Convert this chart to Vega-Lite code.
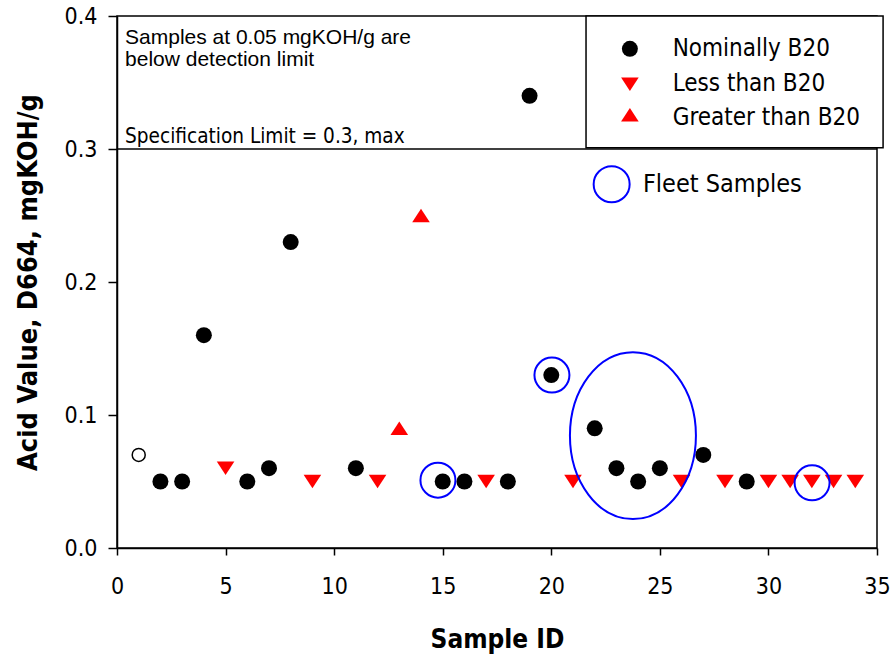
{
  "$schema": "https://vega.github.io/schema/vega-lite/v6.json",
  "width": 760,
  "height": 532,
  "autosize": {"type": "none"},
  "padding": {"left": 117, "top": 16, "right": 17, "bottom": 110},
  "background": "white",
  "config": {
    "view": {"stroke": "black", "strokeWidth": 1.5},
    "axis": {
      "grid": false,
      "domainColor": "black",
      "domainWidth": 1.5,
      "tickColor": "black",
      "tickWidth": 1.5,
      "labelColor": "black",
      "titleColor": "black",
      "labelFont": "DejaVu Sans Condensed, Liberation Sans Narrow, DejaVu Sans",
      "labelFontSize": 23,
      "titleFont": "DejaVu Sans Condensed, Liberation Sans Narrow, DejaVu Sans",
      "titleFontSize": 26,
      "titleFontWeight": "bold",
      "labelFlush": false,
      "labelOverlap": false
    }
  },
  "datasets": {
    "samples": [
      {"id": 2, "value": 0.05, "group": "Nominally B20"},
      {"id": 3, "value": 0.05, "group": "Nominally B20"},
      {"id": 4, "value": 0.16, "group": "Nominally B20"},
      {"id": 5, "value": 0.06, "group": "Less than B20"},
      {"id": 6, "value": 0.05, "group": "Nominally B20"},
      {"id": 7, "value": 0.06, "group": "Nominally B20"},
      {"id": 8, "value": 0.23, "group": "Nominally B20"},
      {"id": 9, "value": 0.05, "group": "Less than B20"},
      {"id": 11, "value": 0.06, "group": "Nominally B20"},
      {"id": 12, "value": 0.05, "group": "Less than B20"},
      {"id": 13, "value": 0.09, "group": "Greater than B20"},
      {"id": 14, "value": 0.25, "group": "Greater than B20"},
      {"id": 15, "value": 0.05, "group": "Nominally B20"},
      {"id": 16, "value": 0.05, "group": "Nominally B20"},
      {"id": 17, "value": 0.05, "group": "Less than B20"},
      {"id": 18, "value": 0.05, "group": "Nominally B20"},
      {"id": 19, "value": 0.34, "group": "Nominally B20"},
      {"id": 20, "value": 0.13, "group": "Nominally B20"},
      {"id": 21, "value": 0.05, "group": "Less than B20"},
      {"id": 22, "value": 0.09, "group": "Nominally B20"},
      {"id": 23, "value": 0.06, "group": "Nominally B20"},
      {"id": 24, "value": 0.05, "group": "Nominally B20"},
      {"id": 25, "value": 0.06, "group": "Nominally B20"},
      {"id": 26, "value": 0.05, "group": "Less than B20"},
      {"id": 27, "value": 0.07, "group": "Nominally B20"},
      {"id": 28, "value": 0.05, "group": "Less than B20"},
      {"id": 29, "value": 0.05, "group": "Nominally B20"},
      {"id": 30, "value": 0.05, "group": "Less than B20"},
      {"id": 31, "value": 0.05, "group": "Less than B20"},
      {"id": 32, "value": 0.05, "group": "Less than B20"},
      {"id": 33, "value": 0.05, "group": "Less than B20"},
      {"id": 34, "value": 0.05, "group": "Less than B20"}
    ],
    "openSample": [{"id": 1, "value": 0.07}],
    "fleet": [
      {"id": 14.78, "value": 0.051},
      {"id": 20.03, "value": 0.13},
      {"id": 32.01, "value": 0.049}
    ],
    "fleetGroup": [{"id": 23.76, "value": 0.0845}],
    "legendBox": [{"x": 21.6, "x2": 35.28, "y": 0.4, "y2": 0.301}],
    "legendItems": [
      {"group": "Nominally B20", "x": 23.62, "y": 0.3753, "tx": 25.59, "ty": 0.3753},
      {"group": "Less than B20", "x": 23.62, "y": 0.3487, "tx": 25.59, "ty": 0.3487},
      {"group": "Greater than B20", "x": 23.62, "y": 0.3257, "tx": 25.59, "ty": 0.3235}
    ],
    "fleetLegend": [{"x": 22.78, "y": 0.2735, "tx": 24.22, "label": "Fleet Samples"}],
    "notes": [
      {"label": "Samples at 0.05 mgKOH/g are", "x": 0.37, "y": 0.379},
      {"label": "below detection limit", "x": 0.37, "y": 0.3621}
    ],
    "specNote": [{"label": "Specification Limit = 0.3, max", "x": 0.37, "y": 0.3045, "limit": 0.3}]
  },
  "layer": [
    {
      "data": {"name": "legendBox"},
      "mark": {"type": "rect", "fill": "white", "stroke": "black", "strokeWidth": 1.5},
      "encoding": {
        "x": {"field": "x", "type": "quantitative", "scale": {"domain": [0, 35], "nice": false, "zero": false},
              "axis": {"values": [0, 5, 10, 15, 20, 25, 30, 35], "tickSize": 7, "labelPadding": 20, "titlePadding": 28, "title": "Sample ID"}},
        "x2": {"field": "x2"},
        "y": {"field": "y", "type": "quantitative", "scale": {"domain": [0, 0.4], "nice": false, "zero": false},
              "axis": {"values": [0, 0.1, 0.2, 0.3, 0.4], "format": ".1f", "tickSize": 9, "labelPadding": 11, "titlePadding": 22, "titleFontSize": 27, "title": "Acid Value, D664, mgKOH/g"}},
        "y2": {"field": "y2"}
      }
    },
    {
      "data": {"name": "specNote"},
      "mark": {"type": "rule", "color": "black", "strokeWidth": 1.5},
      "encoding": {"y": {"field": "limit", "type": "quantitative"}}
    },
    {
      "data": {"name": "notes"},
      "mark": {"type": "text", "align": "left", "baseline": "alphabetic", "font": "Liberation Sans, Arial, sans-serif", "fontSize": 21, "color": "black"},
      "encoding": {
        "x": {"field": "x", "type": "quantitative"},
        "y": {"field": "y", "type": "quantitative"},
        "text": {"field": "label"}
      }
    },
    {
      "data": {"name": "specNote"},
      "mark": {"type": "text", "align": "left", "baseline": "alphabetic", "font": "DejaVu Sans Condensed, Liberation Sans Narrow, DejaVu Sans", "fontSize": 20.6, "color": "black"},
      "encoding": {
        "x": {"field": "x", "type": "quantitative"},
        "y": {"field": "y", "type": "quantitative"},
        "text": {"field": "label"}
      }
    },
    {
      "data": {"name": "samples"},
      "mark": {"type": "point", "filled": true, "opacity": 1, "size": 256},
      "encoding": {
        "x": {"field": "id", "type": "quantitative"},
        "y": {"field": "value", "type": "quantitative"},
        "shape": {"field": "group", "type": "nominal", "legend": null,
                  "scale": {"domain": ["Nominally B20", "Less than B20", "Greater than B20"],
                            "range": ["circle", "M -1.1 -0.85 L 1.1 -0.85 L 0 0.85 Z", "M -1.1 0.85 L 1.1 0.85 L 0 -0.85 Z"]}},
        "color": {"field": "group", "type": "nominal", "legend": null,
                  "scale": {"domain": ["Nominally B20", "Less than B20", "Greater than B20"], "range": ["#000000", "#ff0000", "#ff0000"]}}
      }
    },
    {
      "data": {"name": "openSample"},
      "mark": {"type": "point", "filled": false, "opacity": 1, "size": 169, "color": "black", "strokeWidth": 1.5, "shape": "circle"},
      "encoding": {
        "x": {"field": "id", "type": "quantitative"},
        "y": {"field": "value", "type": "quantitative"}
      }
    },
    {
      "data": {"name": "fleet"},
      "mark": {"type": "point", "filled": false, "opacity": 1, "size": 1225, "color": "#0000ff", "strokeWidth": 2, "shape": "circle"},
      "encoding": {
        "x": {"field": "id", "type": "quantitative"},
        "y": {"field": "value", "type": "quantitative"}
      }
    },
    {
      "data": {"name": "fleetGroup"},
      "mark": {"type": "point", "filled": false, "opacity": 1, "size": 15876, "color": "#0000ff", "strokeWidth": 2,
               "shape": "M 1 0 C 1 0.7318 0.5523 1.325 0 1.325 C -0.5523 1.325 -1 0.7318 -1 0 C -1 -0.7318 -0.5523 -1.325 0 -1.325 C 0.5523 -1.325 1 -0.7318 1 0 Z"},
      "encoding": {
        "x": {"field": "id", "type": "quantitative"},
        "y": {"field": "value", "type": "quantitative"}
      }
    },
    {
      "data": {"name": "legendItems"},
      "mark": {"type": "point", "filled": true, "opacity": 1, "size": 256},
      "encoding": {
        "x": {"field": "x", "type": "quantitative"},
        "y": {"field": "y", "type": "quantitative"},
        "shape": {"field": "group", "type": "nominal", "legend": null},
        "color": {"field": "group", "type": "nominal", "legend": null}
      }
    },
    {
      "data": {"name": "legendItems"},
      "mark": {"type": "text", "align": "left", "baseline": "middle", "font": "DejaVu Sans Condensed, Liberation Sans Narrow, DejaVu Sans", "fontSize": 24, "color": "black"},
      "encoding": {
        "x": {"field": "tx", "type": "quantitative"},
        "y": {"field": "ty", "type": "quantitative"},
        "text": {"field": "group"}
      }
    },
    {
      "data": {"name": "fleetLegend"},
      "mark": {"type": "point", "filled": false, "opacity": 1, "size": 1296, "color": "#0000ff", "strokeWidth": 2, "shape": "circle"},
      "encoding": {
        "x": {"field": "x", "type": "quantitative"},
        "y": {"field": "y", "type": "quantitative"}
      }
    },
    {
      "data": {"name": "fleetLegend"},
      "mark": {"type": "text", "align": "left", "baseline": "middle", "font": "DejaVu Sans Condensed, Liberation Sans Narrow, DejaVu Sans", "fontSize": 25, "color": "black"},
      "encoding": {
        "x": {"field": "tx", "type": "quantitative"},
        "y": {"field": "y", "type": "quantitative"},
        "text": {"field": "label"}
      }
    }
  ]
}
